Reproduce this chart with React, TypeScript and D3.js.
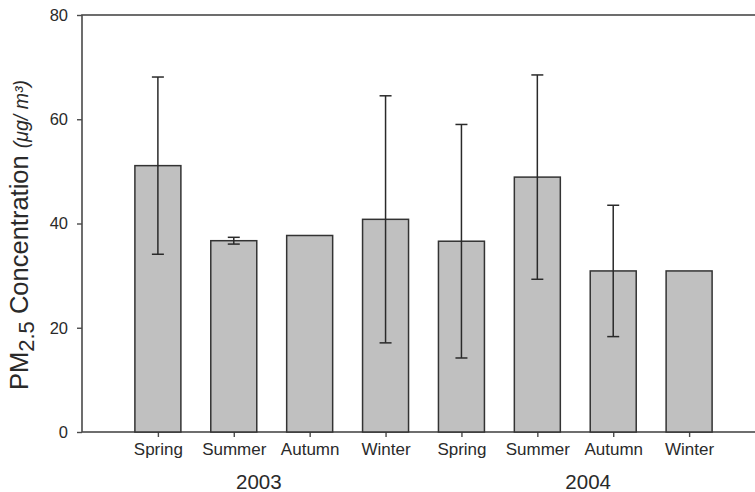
import React, { useEffect, useRef } from 'react';
import * as d3 from 'd3';

// season means and standard deviations
const seasons = ['Spring', 'Summer', 'Autumn', 'Winter', 'Spring', 'Summer', 'Autumn', 'Winter'];
const means = [51.1, 36.7, 37.7, 40.8, 36.6, 48.9, 30.9, 30.9];
const errors = [17.0, 0.65, 0, 23.7, 22.4, 19.6, 12.6, 0];
const years = ['2003', '2004'];
const yearPositions = [2.33, 6.67];
const yTicks = [0, 20, 40, 60, 80];

const FONT = '"Liberation Sans", Arial, sans-serif';
const AXIS = '#4a4a4a';
const TEXT = '#2a2a2a';

function draw(node: SVGSVGElement) {
  const svg = d3.select(node);
  svg.selectAll('*').remove();

  const x = d3.scaleLinear().domain([0, 9]).range([82, 765]);
  const y = d3.scaleLinear().domain([0, 80]).range([432, 15]);
  const barW = x(0.606) - x(0);
  const capW = 12;

  // frame
  svg.append('rect')
     .attr('x', x(0)).attr('y', y(80))
     .attr('width', x(9) - x(0)).attr('height', y(0) - y(80))
     .attr('fill', 'none')
     .attr('stroke', AXIS)
     .attr('stroke-width', 1.6);

  // left axis
  const yAxis = svg.append('g')
     .attr('transform', `translate(${x(0)},0)`)
     .call(d3.axisLeft(y).tickValues(yTicks).tickSize(5).tickPadding(9).tickFormat(d3.format('d')));
  yAxis.select('.domain').remove();
  yAxis.selectAll('line').attr('stroke', AXIS).attr('stroke-width', 1.4);
  yAxis.selectAll('text')
       .attr('font-family', FONT)
       .attr('font-size', 16.5)
       .attr('fill', TEXT);

  // bottom ticks and season labels
  const idx = d3.range(seasons.length);
  const xAxis = svg.append('g')
     .attr('transform', `translate(0,${y(0)})`)
     .call(d3.axisBottom(x).tickValues(idx.map(i => i + 1)).tickSize(5).tickPadding(6)
             .tickFormat((d: any) => seasons[d - 1]));
  xAxis.select('.domain').remove();
  xAxis.selectAll('line').attr('stroke', AXIS).attr('stroke-width', 1.4);
  xAxis.selectAll('text')
       .attr('font-family', FONT)
       .attr('font-size', 17)
       .attr('fill', TEXT);

  // bars
  svg.append('g')
     .selectAll('rect')
     .data(idx)
     .join('rect')
     .attr('x', i => x(i + 1) - barW / 2)
     .attr('y', i => y(means[i]))
     .attr('width', barW)
     .attr('height', i => y(0) - y(means[i]))
     .attr('fill', '#c0c0c0')
     .attr('stroke', '#333')
     .attr('stroke-width', 1.5);

  // error bars
  const eb = svg.append('g')
     .attr('stroke', '#2a2a2a')
     .attr('stroke-width', 1.5);
  idx.filter(i => errors[i] > 0).forEach(i => {
    const cx = x(i + 1);
    const hi = y(means[i] + errors[i]);
    const lo = y(means[i] - errors[i]);
    eb.append('line').attr('x1', cx).attr('x2', cx).attr('y1', hi).attr('y2', lo);
    eb.append('line').attr('x1', cx - capW / 2).attr('x2', cx + capW / 2).attr('y1', hi).attr('y2', hi);
    eb.append('line').attr('x1', cx - capW / 2).attr('x2', cx + capW / 2).attr('y1', lo).attr('y2', lo);
  });

  // year labels
  svg.append('g')
     .selectAll('text')
     .data(years)
     .join('text')
     .attr('x', (d, i) => x(yearPositions[i]))
     .attr('y', 489)
     .attr('text-anchor', 'middle')
     .attr('font-family', FONT)
     .attr('font-size', 20.5)
     .attr('fill', TEXT)
     .text(d => d);

  // y label
  const label = svg.append('text')
     .attr('transform', `translate(28,390) rotate(-90)`)
     .attr('text-anchor', 'start')
     .attr('font-family', FONT)
     .attr('font-size', 25.5)
     .attr('fill', TEXT);
  label.append('tspan').text('PM');
  label.append('tspan').attr('font-size', 22).attr('dy', 6).text('2.5');
  label.append('tspan').attr('dy', -6).text(' Concentration ');
  label.append('tspan')
       .attr('font-size', 19.5)
       .attr('font-style', 'italic')
       .text('(μg/ m³)');
}

export default function App() {
  const ref = useRef<SVGSVGElement>(null);

  useEffect(() => {
    if (ref.current) draw(ref.current);
  }, []);

  return (
    <svg ref={ref} width={755} height={492}
         style={{ position: 'absolute', left: 0, top: 0, background: '#fff' }} />
  );
}
